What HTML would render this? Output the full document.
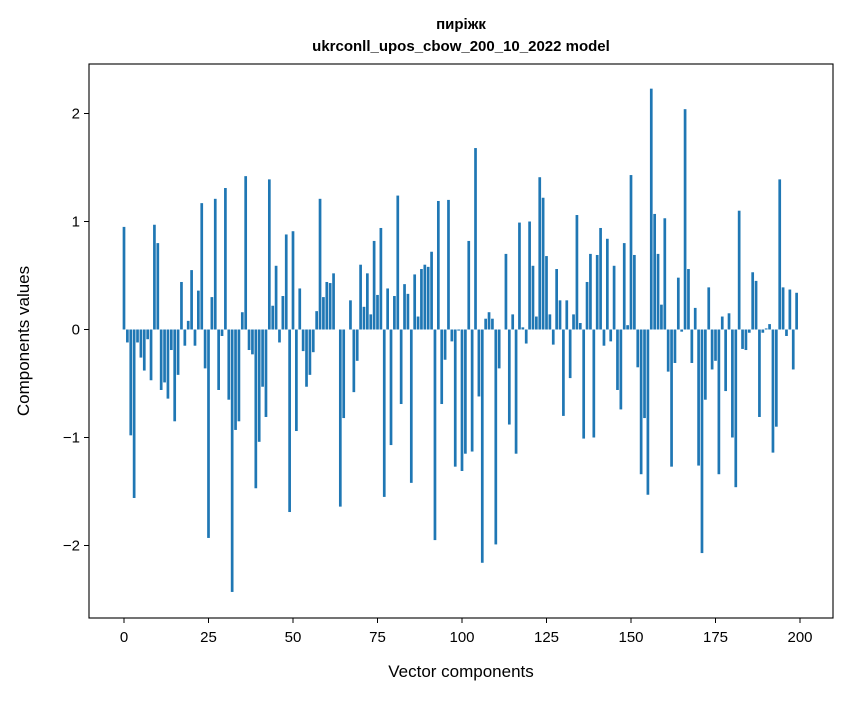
<!DOCTYPE html>
<html><head><meta charset="utf-8"><style>
body{margin:0;background:#fff;}
svg text{font-family:"Liberation Sans","DejaVu Sans",sans-serif;}
</style></head><body>
<svg id="chart" width="847" height="696" xmlns="http://www.w3.org/2000/svg">
<rect x="0" y="0" width="847" height="696" fill="#fff"/>
<text x="461" y="29" text-anchor="middle" font-size="15" font-weight="bold">пиріжк</text>
<text x="461" y="51" text-anchor="middle" font-size="15" font-weight="bold">ukrconll_upos_cbow_200_10_2022 model</text>
<g id="bars"></g>
<g id="axes"></g>
<rect x="89" y="64" width="744" height="554" fill="none" stroke="#000" stroke-width="1.1"/>
<text x="461" y="677" text-anchor="middle" font-size="17">Vector components</text>
<text transform="translate(29,341) rotate(-90)" text-anchor="middle" font-size="17">Components values</text>
</svg>
<script>
const values = [0.95,-0.12,-0.98,-1.56,-0.12,-0.26,-0.38,-0.09,-0.47,0.97,
0.80,-0.56,-0.49,-0.64,-0.19,-0.85,-0.42,0.44,-0.15,0.08,
0.55,-0.15,0.36,1.17,-0.36,-1.93,0.30,1.21,-0.56,-0.06,
1.31,-0.65,-2.43,-0.93,-0.85,0.16,1.42,-0.19,-0.23,-1.47,
-1.04,-0.53,-0.81,1.39,0.22,0.59,-0.12,0.31,0.88,-1.69,
0.91,-0.94,0.38,-0.20,-0.53,-0.42,-0.21,0.17,1.21,0.30,
0.44,0.43,0.52,0.0,-1.64,-0.82,0.0,0.27,-0.58,-0.29,
0.60,0.21,0.52,0.14,0.82,0.32,0.94,-1.55,0.38,-1.07,
0.31,1.24,-0.69,0.42,0.33,-1.42,0.51,0.12,0.56,0.60,
0.58,0.72,-1.95,1.19,-0.69,-0.28,1.20,-0.11,-1.27,-0.01,
-1.31,-1.15,0.82,-1.13,1.68,-0.62,-2.16,0.10,0.16,0.10,
-1.99,-0.36,0.0,0.70,-0.88,0.14,-1.15,0.99,0.02,-0.13,
1.00,0.59,0.12,1.41,1.22,0.68,0.14,-0.14,0.56,0.27,
-0.80,0.27,-0.45,0.14,1.06,0.06,-1.01,0.44,0.70,-1.00,
0.69,0.94,-0.15,0.84,-0.11,0.59,-0.56,-0.74,0.80,0.04,
1.43,0.69,-0.35,-1.34,-0.82,-1.53,2.23,1.07,0.70,0.23,
1.03,-0.39,-1.27,-0.31,0.48,-0.02,2.04,0.56,-0.31,0.20,
-1.26,-2.07,-0.65,0.39,-0.37,-0.29,-1.34,0.12,-0.57,0.15,
-1.00,-1.46,1.10,-0.18,-0.19,-0.03,0.53,0.45,-0.81,-0.03,
0.01,0.05,-1.14,-0.90,1.39,0.39,-0.06,0.37,-0.37,0.34];
const xTicks = [0,25,50,75,100,125,150,175,200];
const yTicks = [-2,-1,0,1,2];
const yTickLabels = ["\u22122","\u22121","0","1","2"];

const NS="http://www.w3.org/2000/svg";
const X0=124, XS=3.38, Y0=329.5, YS=108;
function xs(v){return X0+v*XS;}
function ys(v){return Y0-v*YS;}
const barsG=document.getElementById('bars');
values.forEach((v,i)=>{
  const r=document.createElementNS(NS,'rect');
  const w=0.8*XS;
  r.setAttribute('x',xs(i)-w/2);
  r.setAttribute('width',w);
  r.setAttribute('y',Math.min(ys(v),ys(0)));
  r.setAttribute('height',Math.abs(ys(v)-ys(0)));
  r.setAttribute('fill','#1f77b4');
  
  
  barsG.appendChild(r);
});
const axesG=document.getElementById('axes');
xTicks.forEach(t=>{
  const l=document.createElementNS(NS,'line');
  l.setAttribute('x1',xs(t));l.setAttribute('x2',xs(t));
  l.setAttribute('y1',618);l.setAttribute('y2',623);
  l.setAttribute('stroke','#000');
  
  
  axesG.appendChild(l);
  const tx=document.createElementNS(NS,'text');
  tx.setAttribute('x',xs(t));tx.setAttribute('y',642);
  tx.setAttribute('text-anchor','middle');tx.setAttribute('font-size','15');
  tx.textContent=String(t);
  
  
  axesG.appendChild(tx);
});
yTicks.forEach((t,k)=>{
  const l=document.createElementNS(NS,'line');
  l.setAttribute('x1',84);l.setAttribute('x2',89);
  l.setAttribute('y1',ys(t));l.setAttribute('y2',ys(t));
  l.setAttribute('stroke','#000');
  
  
  axesG.appendChild(l);
  const tx=document.createElementNS(NS,'text');
  tx.setAttribute('x',80);tx.setAttribute('y',ys(t)+5);
  tx.setAttribute('text-anchor','end');tx.setAttribute('font-size','15');
  tx.textContent=yTickLabels[k];
  
  
  axesG.appendChild(tx);
});
</script>
</body></html>
